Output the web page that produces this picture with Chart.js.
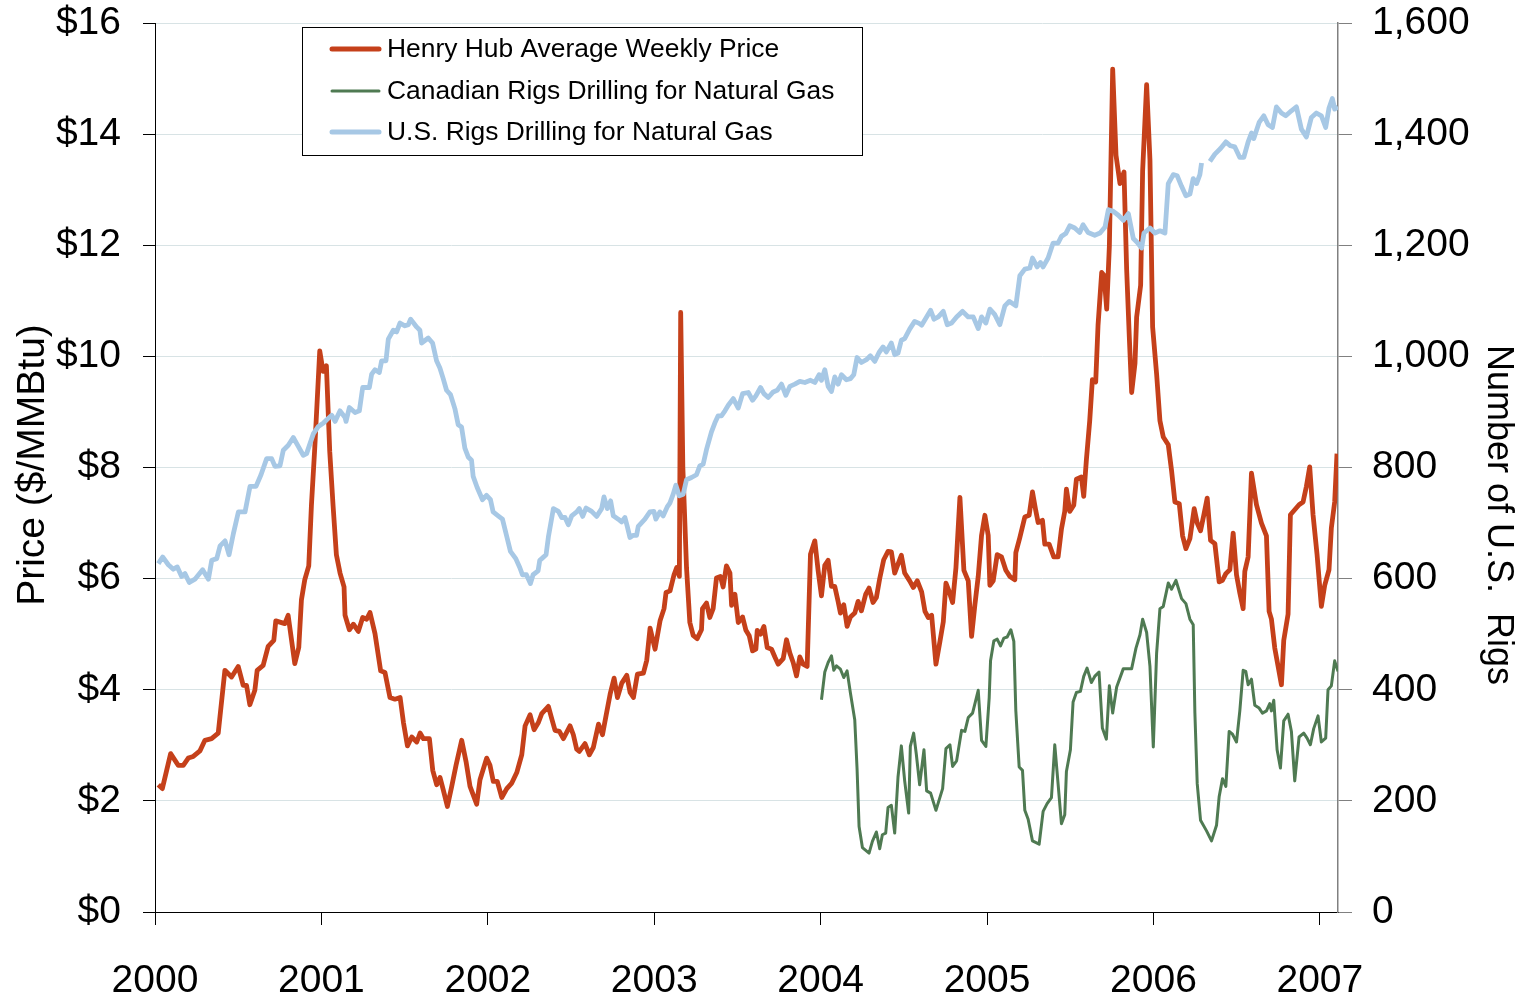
<!DOCTYPE html>
<html><head><meta charset="utf-8">
<script src="https://cdn.jsdelivr.net/npm/chart.js@4.4.1/dist/chart.umd.min.js"></script>
<style>html,body{margin:0;padding:0;background:#fff;}canvas{display:block;}</style>
</head><body>
<canvas id="c" width="1522" height="998"></canvas>
<script>
// ---- data (decimal year, value) ----
const seriesNames = ['Henry Hub Average Weekly Price','Canadian Rigs Drilling for Natural Gas','U.S. Rigs Drilling for Natural Gas'];
const leftAxisTitle = 'Price ($/MMBtu)';
const rightAxisTitle = 'Number of U.S.  Rigs';
const yearTicks = [2000,2001,2002,2003,2004,2005,2006,2007];
const priceTicks = [0,2,4,6,8,10,12,14,16];
const rigTicks = [0,200,400,600,800,1000,1200,1400,1600];

const henryHub = [
[2000.020,2.29],[2000.044,2.22],[2000.094,2.85],[2000.140,2.64],[2000.170,2.64],[2000.200,2.77],[2000.230,2.80],[2000.270,2.90],[2000.300,3.09],[2000.340,3.12],[2000.380,3.22],[2000.420,4.35],[2000.460,4.23],[2000.500,4.42],[2000.530,4.08],[2000.550,4.08],[2000.570,3.73],[2000.600,3.99],[2000.614,4.35],[2000.650,4.44],[2000.680,4.78],[2000.714,4.89],[2000.726,5.24],[2000.780,5.19],[2000.800,5.34],[2000.840,4.47],[2000.864,4.76],[2000.880,5.62],[2000.900,5.98],[2000.924,6.23],[2000.940,7.32],[2000.960,8.35],[2000.990,10.10],[2001.010,9.73],[2001.030,9.83],[2001.050,8.29],[2001.070,7.32],[2001.090,6.43],
[2001.112,6.10],[2001.136,5.85],[2001.142,5.34],[2001.168,5.08],[2001.192,5.18],[2001.222,5.05],[2001.248,5.30],[2001.272,5.27],[2001.292,5.39],[2001.322,5.01],[2001.356,4.34],[2001.382,4.31],[2001.412,3.86],[2001.442,3.83],[2001.473,3.86],[2001.493,3.41],[2001.517,2.99],[2001.543,3.15],[2001.573,3.06],[2001.593,3.22],[2001.613,3.12],[2001.649,3.12],[2001.669,2.55],[2001.693,2.29],[2001.713,2.42],[2001.733,2.19],[2001.757,1.90],[2001.783,2.26],[2001.809,2.64],[2001.843,3.09],[2001.869,2.71],[2001.893,2.26],[2001.933,1.94],[2001.953,2.38],[2001.993,2.77],[2002.013,2.64],[2002.033,2.35],[2002.057,2.35],[2002.084,2.06],[2002.114,2.22],[2002.144,2.32],[2002.174,2.51],[2002.204,2.83],[2002.224,3.35],[2002.254,3.55],
[2002.278,3.28],[2002.304,3.41],[2002.324,3.57],[2002.364,3.70],[2002.384,3.48],[2002.404,3.27],[2002.430,3.25],[2002.454,3.12],[2002.494,3.35],[2002.514,3.19],[2002.534,2.93],[2002.550,2.89],[2002.584,3.03],[2002.610,2.83],[2002.634,2.96],[2002.665,3.38],[2002.689,3.19],[2002.711,3.54],[2002.735,3.92],[2002.759,4.21],[2002.779,3.86],[2002.805,4.12],[2002.835,4.26],[2002.855,3.95],[2002.875,3.86],[2002.899,4.28],[2002.935,4.30],[2002.955,4.53],[2002.975,5.11],[2003.005,4.73],[2003.035,5.24],[2003.059,5.46],[2003.071,5.75],[2003.095,5.78],[2003.119,6.07],[2003.135,6.20],[2003.151,6.04],[2003.159,10.79],[2003.172,8.00],[2003.194,6.20],[2003.214,5.21],[2003.234,4.98],[2003.258,4.92],[2003.284,5.08],[2003.290,5.46],[2003.314,5.56],[2003.334,5.30],[2003.354,5.46],[2003.374,6.01],[2003.398,6.04],[2003.414,5.85],[2003.434,6.23],
[2003.455,6.10],[2003.465,5.52],[2003.485,5.72],[2003.505,5.21],[2003.531,5.31],[2003.551,5.07],[2003.571,4.97],[2003.591,4.70],[2003.611,4.73],[2003.619,5.07],[2003.639,5.00],[2003.659,5.14],[2003.679,4.76],[2003.705,4.73],[2003.725,4.59],[2003.745,4.46],[2003.775,4.56],[2003.795,4.90],[2003.815,4.66],[2003.835,4.49],[2003.855,4.25],[2003.875,4.59],[2003.895,4.46],[2003.919,4.42],[2003.939,6.44],[2003.965,6.68],[2003.985,6.14],[2004.005,5.69],[2004.025,6.24],[2004.045,6.33],[2004.065,5.86],[2004.085,5.86],[2004.105,5.59],[2004.119,5.38],[2004.139,5.53],[2004.159,5.14],[2004.179,5.31],[2004.205,5.38],[2004.225,5.59],[2004.245,5.42],[2004.271,5.72],[2004.291,5.83],[2004.315,5.57],[2004.335,5.66],[2004.355,6.00],[2004.379,6.34],[2004.405,6.49],[2004.425,6.48],[2004.445,6.10],[2004.465,6.26],[2004.485,6.42],[2004.505,6.10],[2004.535,5.96],
[2004.557,5.84],[2004.581,5.96],[2004.607,5.76],[2004.627,5.41],[2004.647,5.30],[2004.667,5.34],[2004.693,4.46],[2004.717,4.87],[2004.737,5.22],[2004.753,5.92],[2004.773,5.76],[2004.793,5.57],[2004.813,6.19],[2004.837,7.46],[2004.861,6.15],[2004.887,5.96],[2004.907,4.96],[2004.927,5.53],[2004.947,6.04],[2004.967,6.78],[2004.987,7.14],[2005.007,6.78],[2005.017,5.88],[2005.037,5.96],[2005.061,6.43],[2005.087,6.39],[2005.113,6.15],[2005.137,6.04],[2005.167,5.98],[2005.173,6.47],[2005.197,6.74],[2005.227,7.11],[2005.253,7.14],[2005.273,7.56],[2005.293,7.22],[2005.307,7.01],[2005.333,7.05],[2005.347,6.62],[2005.373,6.62],[2005.401,6.39],[2005.427,6.39],[2005.447,6.89],[2005.467,7.21],[2005.477,7.61],[2005.497,7.21],[2005.521,7.32],[2005.537,7.79],[2005.567,7.83],[2005.581,7.48],[2005.597,8.14],[2005.617,8.84],[2005.633,9.58],[2005.653,9.54],[2005.667,10.56],
[2005.689,11.51],[2005.703,11.46],[2005.719,10.85],[2005.735,11.98],[2005.755,15.17],[2005.775,13.62],[2005.799,13.11],[2005.823,13.32],[2005.839,11.56],[2005.855,10.34],[2005.869,9.35],[2005.889,9.87],[2005.899,10.71],[2005.923,11.28],[2005.935,13.34],[2005.959,14.89],[2005.979,13.53],[2005.995,10.53],[2006.019,9.68],[2006.039,8.84],[2006.059,8.55],[2006.089,8.41],[2006.109,7.94],[2006.129,7.38],[2006.155,7.35],[2006.175,6.77],[2006.195,6.54],[2006.219,6.72],[2006.245,7.26],[2006.263,7.00],[2006.283,6.86],[2006.303,7.15],[2006.323,7.45],[2006.343,6.69],[2006.369,6.63],[2006.395,5.94],[2006.415,5.97],[2006.435,6.09],[2006.459,6.16],[2006.479,6.82],[2006.499,6.07],[2006.519,5.74],[2006.539,5.46],[2006.549,6.13],[2006.569,6.39],[2006.589,7.90],[2006.619,7.33],[2006.649,7.00],[2006.679,6.77],[2006.695,5.41],[2006.709,5.27],[2006.729,4.75],[2006.749,4.42],[2006.769,4.09],[2006.783,4.89],[2006.809,5.36],[2006.823,7.15],[2006.849,7.24],[2006.875,7.33],[2006.899,7.38],[2006.919,7.66],[2006.939,8.01],[2006.959,7.15],[2006.983,6.44],[2007.009,5.50],[2007.029,5.88],[2007.055,6.16],[2007.069,6.91],[2007.089,7.38],[2007.103,8.25]
];

const canadaRigs = [
[2004.005,382],[2004.025,432],[2004.045,449],[2004.065,461],[2004.079,435],[2004.095,443],[2004.119,437],[2004.139,422],[2004.159,434],[2004.179,394],[2004.205,346],[2004.219,257],[2004.231,154],[2004.251,116],[2004.291,106],[2004.311,127],[2004.335,144],[2004.355,114],[2004.371,139],[2004.391,142],[2004.405,188],[2004.425,192],[2004.445,142],[2004.465,243],[2004.485,299],[2004.505,236],[2004.529,178],[2004.539,298],[2004.559,322],[2004.575,284],[2004.595,229],
[2004.621,292],[2004.637,218],[2004.661,214],[2004.693,183],[2004.733,222],[2004.753,294],[2004.777,301],[2004.793,262],[2004.817,272],[2004.847,327],[2004.867,325],[2004.887,350],[2004.913,358],[2004.947,399],[2004.967,309],[2004.993,298],[2005.013,386],[2005.021,452],[2005.041,488],[2005.061,491],[2005.081,479],[2005.101,493],[2005.121,495],[2005.143,508],[2005.161,487],[2005.173,362],[2005.193,261],[2005.213,255],[2005.227,183],[2005.247,167],[2005.273,128],[2005.313,122],[2005.337,181],[2005.361,195],[2005.387,206],[2005.407,301],[2005.427,230],[2005.447,159],[2005.467,175],[2005.477,253],[2005.501,292],[2005.517,378],[2005.537,395],[2005.561,397],[2005.581,424],[2005.601,439],[2005.627,413],[2005.647,424],[2005.673,432],[2005.693,331],[2005.717,311],
[2005.735,407],[2005.755,358],[2005.779,405],[2005.819,438],[2005.869,438],[2005.895,475],[2005.919,499],[2005.935,527],[2005.959,503],[2005.979,442],[2005.999,297],[2006.019,466],[2006.039,546],[2006.059,550],[2006.089,592],[2006.109,581],[2006.135,597],[2006.169,564],[2006.195,555],[2006.219,527],[2006.239,517],[2006.249,358],[2006.263,231],[2006.283,165],[2006.319,146],[2006.349,128],[2006.379,156],[2006.395,208],[2006.415,240],[2006.435,226],[2006.455,325],[2006.475,320],[2006.499,306],[2006.519,362],[2006.539,435],[2006.555,433],[2006.569,409],[2006.589,419],[2006.609,372],[2006.635,367],[2006.655,358],[2006.679,362],[2006.699,375],[2006.709,362],[2006.723,381],[2006.743,292],[2006.763,259],[2006.783,344],[2006.809,356],[2006.829,325],[2006.849,236],[2006.875,315],[2006.903,322],[2006.923,313],[2006.943,301],[2006.963,330],[2006.989,353],[2007.009,306],[2007.035,313],[2007.049,400],[2007.069,407],[2007.089,452],[2007.109,433]
];

const usRigs = [
[2000.020,627],[2000.046,639],[2000.080,625],[2000.110,617],[2000.134,621],[2000.160,604],[2000.180,609],[2000.206,593],[2000.240,599],[2000.286,616],[2000.321,599],[2000.341,633],[2000.371,636],[2000.391,659],[2000.421,668],[2000.445,643],[2000.471,681],[2000.501,720],[2000.541,720],[2000.571,766],[2000.607,766],[2000.637,787],[2000.671,816],[2000.701,816],[2000.721,802],[2000.751,803],[2000.771,831],[2000.801,840],[2000.831,854],[2000.861,838],[2000.891,822],[2000.911,825],[2000.952,861],[2000.982,874],[2001.012,880],[2001.032,886],[2001.062,894],[2001.082,883],
[2001.112,902],[2001.142,890],[2001.148,883],[2001.168,908],[2001.202,899],[2001.228,902],[2001.248,944],[2001.288,944],[2001.302,968],[2001.322,976],[2001.348,971],[2001.362,992],[2001.388,992],[2001.402,1031],[2001.432,1047],[2001.452,1044],[2001.472,1060],[2001.502,1055],[2001.522,1057],[2001.536,1067],[2001.572,1053],[2001.592,1047],[2001.602,1024],[2001.642,1033],[2001.668,1024],[2001.692,992],[2001.712,979],[2001.732,960],[2001.752,939],[2001.776,931],[2001.802,906],[2001.822,877],[2001.842,873],[2001.862,835],[2001.882,819],[2001.902,813],[2001.912,784],[2001.936,764],[2001.968,742],[2001.992,750],[2002.016,742],[2002.032,720],[2002.062,713],[2002.088,707],[2002.112,678],[2002.136,649],[2002.168,636],[2002.192,620],[2002.208,607],[2002.232,607],[2002.256,591],[2002.272,607],[2002.302,614],[2002.312,633],
[2002.324,636],[2002.350,643],[2002.364,675],[2002.394,726],[2002.424,721],[2002.444,710],[2002.464,710],[2002.484,697],[2002.504,713],[2002.534,720],[2002.550,726],[2002.570,712],[2002.590,727],[2002.624,721],[2002.654,712],[2002.684,726],[2002.698,747],[2002.718,726],[2002.738,740],[2002.754,713],[2002.784,707],[2002.804,702],[2002.824,710],[2002.838,694],[2002.854,674],[2002.874,678],[2002.894,678],[2002.904,694],[2002.944,707],[2002.974,720],[2002.998,721],[2003.010,707],[2003.034,720],[2003.054,713],[2003.078,729],[2003.094,736],[2003.114,752],[2003.130,768],[2003.150,749],[2003.174,752],[2003.194,778],[2003.224,782],[2003.254,787],[2003.274,803],[2003.294,806],[2003.314,832],[2003.344,864],[2003.364,880],[2003.384,893],[2003.404,893],
[2003.425,902],[2003.445,912],[2003.475,924],[2003.505,907],[2003.531,933],[2003.565,935],[2003.591,921],[2003.611,929],[2003.639,944],[2003.659,933],[2003.685,926],[2003.715,936],[2003.739,939],[2003.765,950],[2003.791,930],[2003.815,946],[2003.845,950],[2003.875,955],[2003.905,953],[2003.939,957],[2003.965,953],[2003.991,967],[2004.005,957],[2004.025,976],[2004.045,946],[2004.065,937],[2004.085,963],[2004.105,950],[2004.125,967],[2004.155,958],[2004.179,960],[2004.199,967],[2004.219,998],[2004.245,989],[2004.275,994],[2004.299,1001],[2004.325,991],[2004.351,1007],[2004.375,1017],[2004.395,1008],[2004.425,1024],[2004.445,1003],[2004.465,1006],[2004.485,1029],[2004.505,1032],[2004.535,1049],[2004.565,1063],[2004.595,1059],
[2004.607,1056],[2004.661,1083],[2004.681,1067],[2004.707,1071],[2004.737,1081],[2004.761,1057],[2004.787,1060],[2004.817,1071],[2004.853,1081],[2004.887,1071],[2004.917,1071],[2004.947,1050],[2004.967,1071],[2004.993,1060],[2005.017,1085],[2005.047,1075],[2005.077,1057],[2005.107,1091],[2005.133,1099],[2005.173,1091],[2005.197,1145],[2005.227,1157],[2005.257,1159],[2005.273,1177],[2005.301,1161],[2005.321,1169],[2005.337,1161],[2005.367,1177],[2005.397,1204],[2005.427,1204],[2005.447,1216],[2005.473,1221],[2005.497,1235],[2005.527,1231],[2005.557,1223],[2005.577,1237],[2005.607,1223],[2005.647,1218],
[2005.679,1222],[2005.709,1233],[2005.729,1264],[2005.759,1261],[2005.789,1254],[2005.819,1245],[2005.849,1257],[2005.879,1212],[2005.903,1205],[2005.929,1195],[2005.943,1222],[2005.979,1231],[2006.009,1222],[2006.039,1226],[2006.069,1222],[2006.089,1311],[2006.119,1327],[2006.143,1325],[2006.169,1306],[2006.195,1289],[2006.219,1292],[2006.239,1320],[2006.259,1311],[2006.279,1327],[2006.289,1348],[2006.314,null],[2006.339,1351],[2006.369,1364],[2006.403,1374],[2006.435,1386],[2006.463,1379],[2006.489,1377],[2006.519,1358],[2006.543,1358],[2006.569,1386],[2006.589,1402],[2006.603,1392],[2006.635,1421],[2006.663,1433],[2006.689,1417],[2006.715,1412],[2006.739,1449],[2006.769,1438],[2006.795,1433],[2006.829,1442],[2006.859,1449],[2006.889,1409],[2006.919,1395],[2006.949,1430],[2006.979,1438],[2007.009,1433],[2007.035,1412],[2007.055,1447],[2007.075,1464],[2007.089,1445],[2007.109,1449]
];

const colors = { price:'#c5401a', canada:'#4f7a52', us:'#a7c8e5', grid:'#d8e3e5' };
const FONT = "'Liberation Sans', Arial, sans-serif";
const toXY = arr => arr.map(p => ({x:p[0], y:p[1]}));

const overlay = {
  id:'overlay',
  afterDraw(chart){
    const ctx = chart.ctx, a = chart.chartArea;
    ctx.save();
    // legend box
    const lx = a.left + 147, ly = a.top + 4, lw = 560, lh = 128;
    ctx.fillStyle = '#fff'; ctx.fillRect(lx, ly, lw, lh);
    ctx.strokeStyle = '#000'; ctx.lineWidth = 1; ctx.strokeRect(lx + 0.5, ly + 0.5, lw, lh);
    const items = [[seriesNames[0], colors.price, 5],[seriesNames[1], colors.canada, 3],[seriesNames[2], colors.us, 5]];
    const rows = [22, 64, 105];
    ctx.font = '26.4px ' + FONT; ctx.textBaseline = 'middle'; ctx.textAlign = 'left';
    items.forEach((it, i) => {
      const y = ly + rows[i];
      ctx.strokeStyle = it[1]; ctx.lineWidth = it[2]; ctx.lineCap = 'round';
      ctx.beginPath(); ctx.moveTo(lx + 30, y); ctx.lineTo(lx + 77, y); ctx.stroke();
      ctx.fillStyle = '#000'; ctx.fillText(it[0], lx + 85, y + 1);
    });
    // axis titles
    ctx.fillStyle = '#000'; ctx.textAlign = 'center'; ctx.textBaseline = 'middle';
    ctx.font = '39px ' + FONT;
    ctx.save(); ctx.translate(33, 465); ctx.rotate(-Math.PI/2); ctx.fillText(leftAxisTitle, 0, 0); ctx.restore();
    ctx.font = '36px ' + FONT;
    ctx.save(); ctx.translate(1498, 515); ctx.rotate(Math.PI/2); ctx.fillText(rightAxisTitle, 0, 0); ctx.restore();
    ctx.restore();
  }
};

const fixVertical = w => s => { s.width = w; s.paddingTop = 23; s.paddingBottom = 10; };

new Chart(document.getElementById('c'), {
  type:'line',
  data:{ datasets:[
    { label:seriesNames[0], data:toXY(henryHub), yAxisID:'y', borderColor:colors.price, borderWidth:4.8, order:2 },
    { label:seriesNames[1], data:toXY(canadaRigs), yAxisID:'y2', borderColor:colors.canada, borderWidth:3, order:1 },
    { label:seriesNames[2], data:toXY(usRigs), yAxisID:'y2', borderColor:colors.us, borderWidth:4.8, order:0, spanGaps:false }
  ]},
  options:{
    responsive:false, animation:false, devicePixelRatio:1,
    elements:{ point:{ radius:0 }, line:{ tension:0, fill:false, borderJoinStyle:'round', borderCapStyle:'butt' } },
    layout:{ padding:{ top:0, left:0, right:0, bottom:0 } },
    plugins:{ legend:{ display:false }, tooltip:{ enabled:false }, title:{ display:false } },
    scales:{
      x:{
        type:'linear', position:'bottom', min:yearTicks[0], max:2007.109,
        afterBuildTicks: s => { s.ticks = yearTicks.map(v => ({value:v})); },
        afterFit: s => { s.height = 86; },
        ticks:{ callback: v => String(v), font:{ size:39, family:FONT }, color:'#000', padding:33, maxRotation:0, autoSkip:false },
        grid:{ drawOnChartArea:false, drawTicks:true, tickLength:13, tickColor:'#000' },
        border:{ display:true, color:'#000', width:1 }
      },
      y:{
        type:'linear', position:'left', min:0, max:16,
        afterBuildTicks: s => { s.ticks = priceTicks.map(v => ({value:v})); },
        afterFit: fixVertical(155),
        ticks:{ callback: v => '$' + v, font:{ size:39, family:FONT }, color:'#000', padding:22 },
        grid:{ drawOnChartArea:true, color:colors.grid, lineWidth:1, drawTicks:true, tickLength:12, tickColor:'#000' },
        border:{ display:true, color:'#000', width:1 }
      },
      y2:{
        type:'linear', position:'right', min:0, max:1600,
        afterBuildTicks: s => { s.ticks = rigTicks.map(v => ({value:v})); },
        afterFit: fixVertical(184),
        ticks:{ callback: v => v.toLocaleString('en-US'), font:{ size:39, family:FONT }, color:'#000', padding:20 },
        grid:{ drawOnChartArea:false, drawTicks:true, tickLength:14, tickColor:'#808080' },
        border:{ display:true, color:'#808080', width:1.5 }
      }
    }
  },
  plugins:[overlay]
});
</script>
</body></html>
